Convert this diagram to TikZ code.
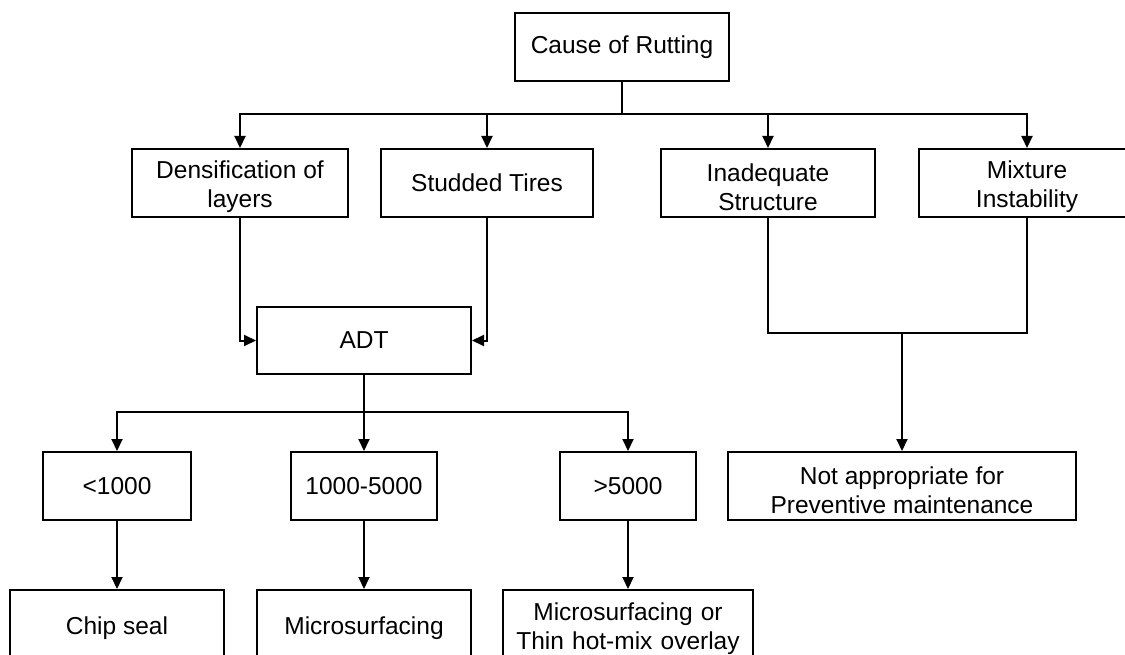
\documentclass[tikz,border=0pt]{standalone}
\usepackage{fontspec}
\setmainfont{Liberation Sans}
\usetikzlibrary{arrows.meta}
% extra room above the first line of two-line boxes
\newcommand\firstline{\rule{0pt}{26pt}}
\begin{document}
\begin{tikzpicture}[x=1pt,y=-1pt,
  box/.style={draw, line width=2pt, inner sep=0pt, minimum height=68pt,
    align=center, font=\fontsize{24.5}{29}\selectfont},
  openbox/.style={draw, line width=2pt, inner xsep=0pt, inner ysep=0pt,
    anchor=north, text depth=90pt, font=\fontsize{24.5}{29}\selectfont},
  wire/.style={line width=2pt},
  arr/.style={line width=2pt, -{Triangle[length=12pt,width=11pt]}}]
\useasboundingbox (0,0) rectangle (1125,655);
\fill[white] (0,0) rectangle (1125,655);
\clip (0,0) rectangle (1125,655);

% top level
\node[box, minimum width=214pt] (cause) at (622,47) {Cause of Rutting};

% causes
\node[box, minimum width=216pt] (dens) at (240,183) {\firstline Densification of\\layers};
\node[box, minimum width=212pt] (stud) at (487,183) {Studded Tires};
\node[box, minimum width=214pt] (inad) at (768,183) {\firstline Inadequate\\Structure};
\node[box, minimum width=216pt] (mix)  at (1027,183) {\firstline Mixture\\Instability};

% traffic volume
\node[box, minimum width=214pt, minimum height=67pt] (adt) at (364,340.5) {ADT};
\node[box, minimum width=148pt] (lt)  at (117,486) {<1000};
\node[box, minimum width=146pt] (mid) at (364,486) {1000-5000};
\node[box, minimum width=136pt] (gt)  at (628,486) {>5000};
\node[box, minimum width=348pt] (notapp) at (902,486) {\firstline Not appropriate for\\Preventive maintenance};

% treatments
\node[openbox, minimum width=214pt, text height=44pt] (chip) at (117,589) {Chip seal};
\node[openbox, minimum width=214pt, text height=44pt] (micro) at (364,589) {Microsurfacing};
\node[openbox, text width=250pt, align=center, text height=30pt] (micro2) at (628,589)
  {Microsurfacing or\\Thin hot-mix overlay};

% connectors from the cause
\coordinate (b1) at (622,114);
\draw[wire] (cause.south) -- (b1);
\draw[arr] (b1) -| (dens.north);
\draw[arr] (b1) -| (stud.north);
\draw[arr] (b1) -| (inad.north);
\draw[arr] (b1) -| (mix.north);

% into ADT
\draw[arr] (dens.south) |- (adt.west);
\draw[arr] (stud.south) |- (adt.east);

% ADT split
\coordinate (b2) at (364,412);
\draw[wire] (adt.south) -- (b2);
\draw[arr] (b2) -| (lt.north);
\draw[arr] (b2) -- (mid.north);
\draw[arr] (b2) -| (gt.north);

% treatments per range
\draw[arr] (lt.south) -- (chip.north);
\draw[arr] (mid.south) -- (micro.north);
\draw[arr] (gt.south) -- (micro2.north);

% structural causes
\coordinate (b3) at (902,333);
\draw[wire] (inad.south) |- (b3) -| (mix.south);
\draw[arr] (b3) -- (notapp.north);
\end{tikzpicture}
\end{document}
